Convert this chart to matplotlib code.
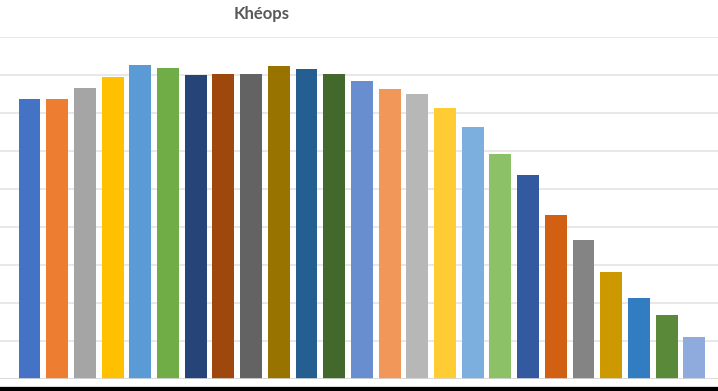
import matplotlib
matplotlib.use("Agg")
import matplotlib.pyplot as plt
from matplotlib.patches import Rectangle

title = "Khéops"
categories = [str(i) for i in range(1, 26)]
values = [73.8, 73.8, 76.6, 79.5, 82.7, 81.9, 80.1, 80.3, 80.3, 82.4, 81.6, 80.4,
          78.5, 76.4, 75.1, 71.4, 66.4, 59.3, 53.6, 43.3, 36.6, 28.3, 21.3, 16.9, 11.2]
colors = ["#4472C4", "#ED7D31", "#A5A5A5", "#FFC000", "#5B9BD5", "#70AD47",
          "#264478", "#9E480E", "#636363", "#997300", "#255E91", "#43682B",
          "#698ED0", "#F1975A", "#B7B7B7", "#FFCD33", "#7CAFDD", "#8CC168",
          "#335AA1", "#D26012", "#848484", "#CC9A00", "#327DC2", "#5A8A39",
          "#8FAADC"]

W, H = 718, 391
fig = plt.figure(figsize=(W / 100, H / 100), dpi=100)
# axes: baseline at y=379.3 px from top, top gridline (90) at y=37 px
bottom_px = H - 379.3
top_px = H - 37.0
ax = fig.add_axes([0, bottom_px / H, 1, (top_px - bottom_px) / H])

x = list(range(len(values)))
ax.bar(x, values, width=0.79, color=colors, zorder=3, linewidth=0)

ax.set_xlim(-29.5 / 27.7, (W - 29.5) / 27.7)
ax.set_ylim(0, 90)
ax.set_yticks(range(0, 91, 10))
ax.yaxis.grid(True, color="#e4e4e4", linewidth=1.2, zorder=0)
ax.set_axisbelow(True)
for s in ax.spines.values():
    s.set_visible(False)
ax.tick_params(left=False, bottom=False, labelleft=False, labelbottom=False)
ax.axhline(0, color="#d9d9d9", linewidth=1.2, zorder=4)

fig.text(262 / W, 1 - 14 / H, title, ha="center", va="center",
         fontsize=12, fontweight="bold", color="#595959", family="Lato")

# bottom dark strip
fig.patches.append(Rectangle((0, 0), 1, 4 / H, transform=fig.transFigure,
                             facecolor="black", edgecolor="none", zorder=10))
fig.patches.append(Rectangle((0, 4 / H), 1, 1.5 / H, transform=fig.transFigure,
                             facecolor="#d9d9d9", edgecolor="none", zorder=10))

fig.savefig("out.png", dpi=100)
